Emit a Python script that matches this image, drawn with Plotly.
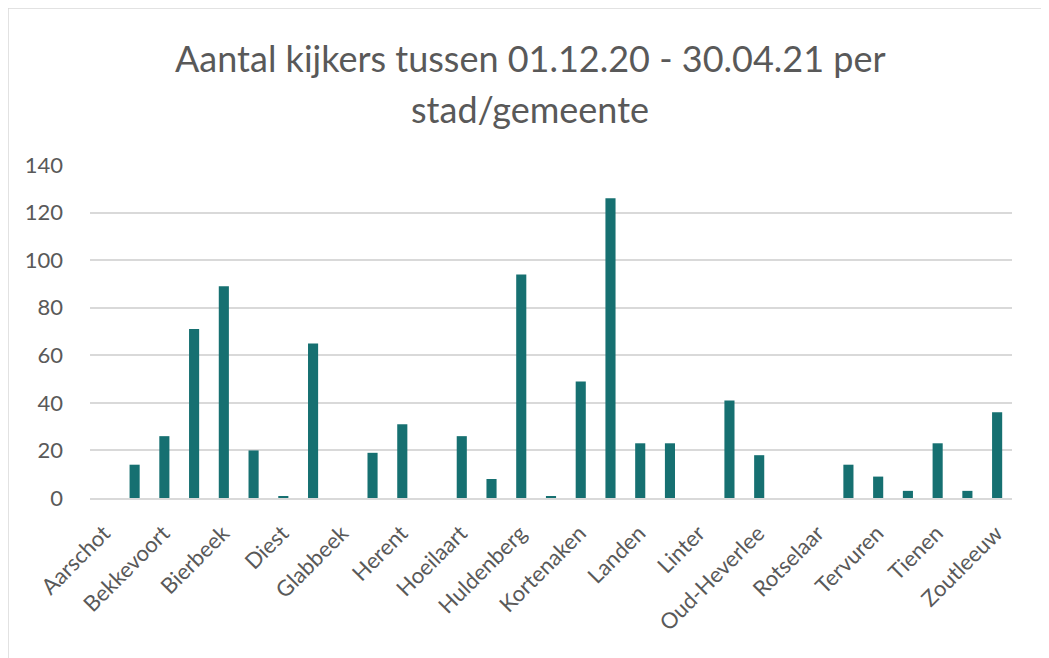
import plotly.graph_objects as go

categories = [
    "Aarschot", "Begijnendijk", "Bekkevoort", "Bertem", "Bierbeek", "Boutersem",
    "Diest", "Geetbets", "Glabbeek", "Haacht", "Herent", "Hoegaarden",
    "Hoeilaart", "Holsbeek", "Huldenberg", "Keerbergen", "Kortenaken", "Kortenberg",
    "Landen", "Leuven", "Linter", "Lubbeek", "Oud-Heverlee", "Overijse",
    "Rotselaar", "Scherpenheuvel-Zichem", "Tervuren", "Tielt-Winge", "Tienen", "Tremelo",
    "Zoutleeuw",
]
values = [
    0, 14, 26, 71, 89, 20,
    0.5, 65, 0, 19, 31, 0,
    26, 8, 94, 0.5, 49, 126,
    23, 23, 0, 41, 18, 0,
    0, 14, 9, 3, 23, 3,
    36,
]
tick_labels = categories[::2]
title_lines = ["Aantal kijkers tussen 01.12.20 - 30.04.21 per", "stad/gemeente"]

TXT = "#595959"
GRID = "#d9d9d9"
FONT = "Lato, Carlito, sans-serif"

# page has an 8px body margin, so figure coords = screen coords - 8
OFF = 8
W, H = 1049, 658
L, R, T, B = 90 - OFF, W - (1012 - OFF), 165 - OFF, H - (498 - OFF)
pw, ph = W - L - R, H - T - B


def px_x(x):
    return (x - OFF - L) / pw


def px_y(y):
    return (H - B - (y - OFF)) / ph


fig = go.Figure(
    go.Bar(
        x=categories,
        y=values,
        marker=dict(color="#167071", line=dict(width=0)),
    )
)

annotations = []
for line, yc in zip(title_lines, [58, 109]):
    annotations.append(
        dict(
            text=line, xref="paper", yref="paper",
            x=px_x(530), y=px_y(yc), xanchor="center", yanchor="middle",
            showarrow=False, font=dict(family=FONT, size=36, color=TXT),
        )
    )

fig.update_layout(
    width=W,
    height=H,
    margin=dict(l=L, r=R, t=T, b=B),
    paper_bgcolor="white",
    plot_bgcolor="white",
    bargap=0.66,
    showlegend=False,
    font=dict(family=FONT, color=TXT),
    annotations=annotations,
    shapes=[
        dict(
            type="rect", xref="paper", yref="paper",
            x0=px_x(8), x1=px_x(1075), y0=px_y(690), y1=px_y(8),
            line=dict(color=GRID, width=1.5), fillcolor="rgba(0,0,0,0)",
            layer="below",
        )
    ],
)

fig.update_xaxes(
    type="category",
    tickmode="array",
    tickvals=tick_labels,
    ticktext=tick_labels,
    tickangle=-45,
    tickfont=dict(family=FONT, size=22, color=TXT),
    ticklabelshift=-1,
    ticklabelstandoff=12,
    showline=True,
    linecolor=GRID,
    linewidth=1.5,
    showgrid=False,
    ticks="",
)

fig.update_yaxes(
    range=[0, 140],
    dtick=20,
    tickfont=dict(family=FONT, size=22, color=TXT),
    showgrid=True,
    gridcolor=GRID,
    gridwidth=1.5,
    zeroline=False,
    showline=False,
    ticks="",
    ticklabelstandoff=26,
)

fig.write_html("out.html")
